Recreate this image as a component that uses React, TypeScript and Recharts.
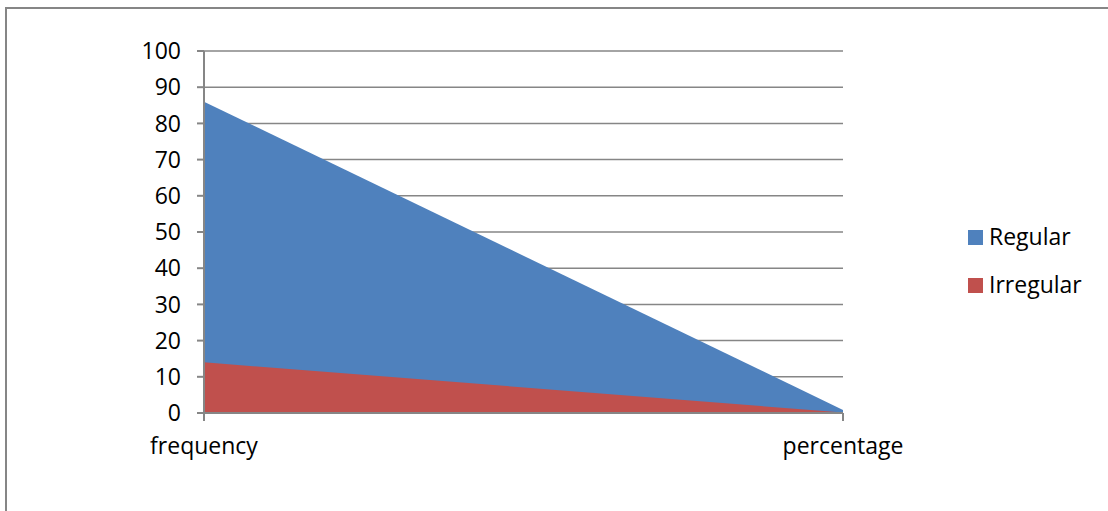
import React from "react";
import { AreaChart, Area, XAxis, YAxis, CartesianGrid } from "recharts";

const categories = ["frequency", "percentage"];
const regular = [86, 0.86];
const irregular = [14, 0.14];
const yTicks = [0, 10, 20, 30, 40, 50, 60, 70, 80, 90, 100];

const BLUE = "#4F81BD";
const RED = "#C0504D";
const GRAY = "#868686";
const FONT = "'Open Sans', sans-serif";
const FONT_SIZE = 23;

const data = categories.map((c, i) => ({ name: c, Regular: regular[i], Irregular: irregular[i] }));

const legendItems = [
  { label: "Regular", color: BLUE },
  { label: "Irregular", color: RED },
];

// Legend drawn as a small SVG to the right of the plot
const LegendBox = () => (
  <svg
    width={150}
    height={110}
    style={{ position: "absolute", left: 960, top: 220 }}
  >
    {legendItems.map((it, i) => (
      <g key={it.label} transform={`translate(0, ${i * 48})`}>
        <rect x={8} y={10} width={15} height={15} fill={it.color} />
        <text x={29} y={25} fontFamily={FONT} fontSize={FONT_SIZE} fill="#000">
          {it.label}
        </text>
      </g>
    ))}
  </svg>
);

export default function App() {
  return (
    <div style={{ position: "absolute", left: 0, top: 0, width: 1108, height: 511, background: "#fff", overflow: "hidden" }}>
      <div
        style={{
          position: "absolute",
          left: 5,
          top: 7,
          width: 1200,
          height: 600,
          border: `2px solid ${GRAY}`,
          boxSizing: "border-box",
        }}
      />
      <div style={{ position: "absolute", left: 0, top: 0 }}>
        <AreaChart width={1108} height={511} data={data} margin={{ top: 51, right: 265, bottom: 68, left: 140 }}>
          <CartesianGrid vertical={false} stroke={GRAY} strokeWidth={1.5} />
          <XAxis
            dataKey="name"
            type="category"
            padding={{ left: 0, right: 0 }}
            stroke={GRAY}
            strokeWidth={2}
            tickSize={8}
            tickMargin={17}
            height={30}
            tick={{ fill: "#000", fontSize: FONT_SIZE, fontFamily: FONT }}
            interval={0}
          />
          <YAxis
            domain={[0, 100]}
            ticks={yTicks}
            width={64}
            stroke={GRAY}
            strokeWidth={2}
            tickSize={7}
            tickMargin={16}
            tick={{ fill: "#000", fontSize: FONT_SIZE, fontFamily: FONT }}
            interval={0}
          />
          <Area type="linear" dataKey="Regular" fill={BLUE} fillOpacity={1} stroke="none" isAnimationActive={false} />
          <Area type="linear" dataKey="Irregular" fill={RED} fillOpacity={1} stroke="none" isAnimationActive={false} />
        </AreaChart>
      </div>
      <LegendBox />
    </div>
  );
}
